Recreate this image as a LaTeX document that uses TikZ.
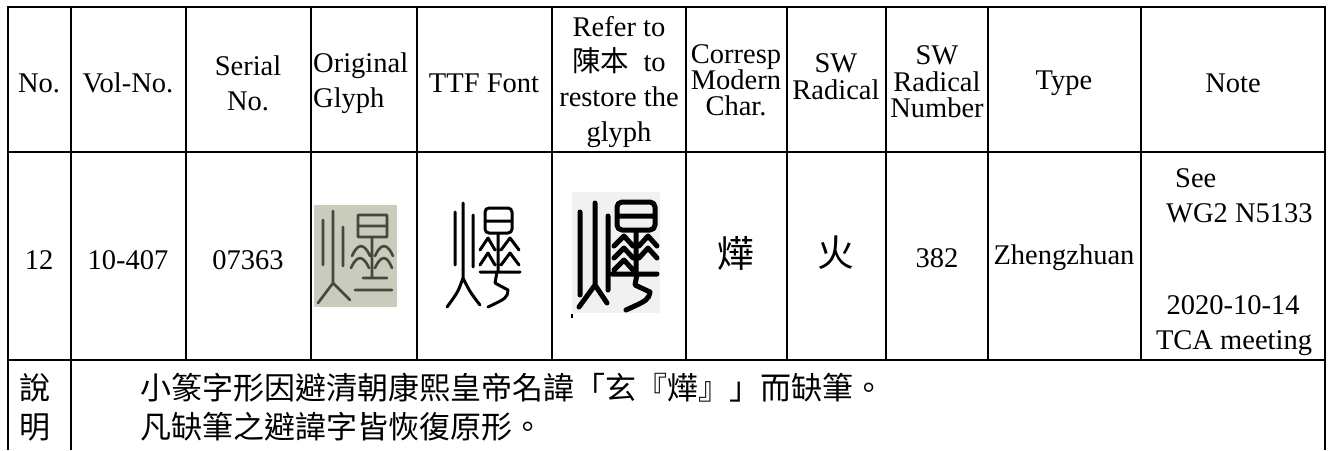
\documentclass[tikz,border=0pt]{standalone}
\usepackage{fontspec}
\setmainfont{Liberation Serif}
\newfontfamily\cjk{Noto Sans CJK TC}
\definecolor{photo}{RGB}{201,203,189}
\definecolor{ink}{RGB}{70,72,64}
\definecolor{scan}{RGB}{241,241,241}

\begin{document}
\begin{tikzpicture}[x=1pt,y=-1pt,
  grid/.style={line width=2pt},
  txt/.style={inner sep=0pt,align=center,font=\fontsize{28.5}{35}\selectfont},
  han/.style={inner sep=0pt,font=\cjk\fontsize{31}{39}\selectfont},
  glyph/.style={line cap=round,line join=round}]
\useasboundingbox (0,0) rectangle (1336,450);

% table lines
\draw[grid] (8,450) -- (8,7) -- (1325,7) -- (1325,450);
\draw[grid] (8,152) -- (1325,152) (8,360) -- (1325,360);
\draw[grid] (71,7) -- (71,450);
\foreach \x in {186,311,417,552,686,787,886,988,1141}
  \draw[grid] (\x,7) -- (\x,360);

% header
\node[txt] (hNo) at (39,83) {No.};
\node[txt] (hVol) at (128,83) {Vol-No.};
\node[txt] (hSer) at (248,83) {Serial\\No.};
\node[txt,anchor=west,align=left] (hOrig) at (313,83) {Original\\Glyph};
\node[txt] (hTTF) at (484,83) {TTF Font};
\node[txt] (hRef) at (619,82) {Refer to\\{\cjk 陳本}\ \ to\\restore the\\glyph};
\node[txt,font=\fontsize{28.5}{26}\selectfont] (hCor) at (736,80) {Corresp\\Modern\\Char.};
\node[txt,font=\fontsize{28.5}{27}\selectfont] (hSW) at (836,77) {SW\\Radical};
\node[txt,font=\fontsize{28.5}{26.5}\selectfont] (hNum) at (937,82) {SW\\Radical\\Number};
\node[txt] (hType) at (1064,83) {Type};
\node[txt] (hNote) at (1233,83) {Note};

% row 12
\node[txt] (no) at (39,260) {12};
\node[txt] (vol) at (128,260) {10-407};
\node[txt] (ser) at (248,260) {07363};
\node[han,font=\cjk\fontsize{37}{40}\selectfont] (modern) at (736,253) {燁};
\node[han,font=\cjk\fontsize{37}{40}\selectfont] (radical) at (836,253) {火};
\node[txt] (num) at (937,258) {382};
\node[txt] (type) at (1064,258) {Zhengzhuan};
\node[txt,anchor=base west] (see) at (1175,187) {See};
\node[txt,anchor=base west] (wg) at (1166,222) {WG2 N5133};
\node[txt] (date) at (1233,305) {2020-10-14};
\node[txt] (tca) at (1234,343) {TCA meeting};

% original glyph
\fill[photo] (314,205) rectangle (397,307);
\draw[ink,glyph,line width=2.6pt]
  (323,220) -- (323,265) (343,227) -- (343,266)
  (333,211) -- (333,283) -- (318,303) (333,283) -- (350,300)
  (358,215) rectangle (387,237) (358,226) -- (387,226)
  (372,237) -- (372,278)
  (352,256) parabola bend (361,246) (370,256)
  (375,256) parabola bend (384,246) (393,256)
  (351,268) parabola bend (360,258) (369,268)
  (375,268) parabola bend (384,258) (392,268)
  (363,278) -- (387,278) (355,290) -- (392,290);

% ttf glyph
\draw[glyph,line width=3pt]
  (455,212) -- (455,265) (473,215) -- (473,267)
  (463,203) -- (463,278) .. controls (458,292) .. (447,307)
  (463,278) .. controls (470,292) .. (480,305)
  [rounded corners=4pt] (485,208) rectangle (512,233) [sharp corners]
  (485,221) -- (512,221) (498,233) -- (498,272)
  (480,250) -- (488,238) -- (495,250) (480,265) -- (488,253) -- (495,265)
  (501,250) -- (510,238) -- (519,250) (501,265) -- (510,253) -- (519,265)
  (480,272) -- (520,272)
  (497,272) -- (495,283) -- (508,290) .. controls (507,298) .. (488,307);

% restored glyph
\fill[scan] (572,192) rectangle (660,313);
\draw[glyph,line width=5pt]
  (580,212) -- (580,295) (608,216) -- (608,290)
  (595,203) -- (595,285) -- (579,307) (595,285) -- (607,303)
  [rounded corners=5pt] (617,202) rectangle (655,230) [sharp corners]
  (617,216) -- (655,216) (636,230) -- (636,274)
  (614,246) -- (624,236) -- (633,246) (614,258) -- (624,248) -- (633,258)
  (614,270) -- (624,260) -- (633,270)
  (639,246) -- (648,236) -- (657,246) (639,258) -- (648,248) -- (657,258)
  (612,274) -- (657,274)
  (637,274) -- (635,285) -- (650,292) .. controls (648,300) .. (626,310);
\fill (571,314) rectangle (572.5,318);

% note row
\node[han] (shuo) at (35,388) {說};
\node[han] (ming) at (35,427) {明};
\node[han,anchor=west] (line1) at (140,388) {小篆字形因避清朝康熙皇帝名諱「玄『燁』」而缺筆。};
\node[han,anchor=west] (line2) at (140,427) {凡缺筆之避諱字皆恢復原形。};
\end{tikzpicture}
\end{document}
